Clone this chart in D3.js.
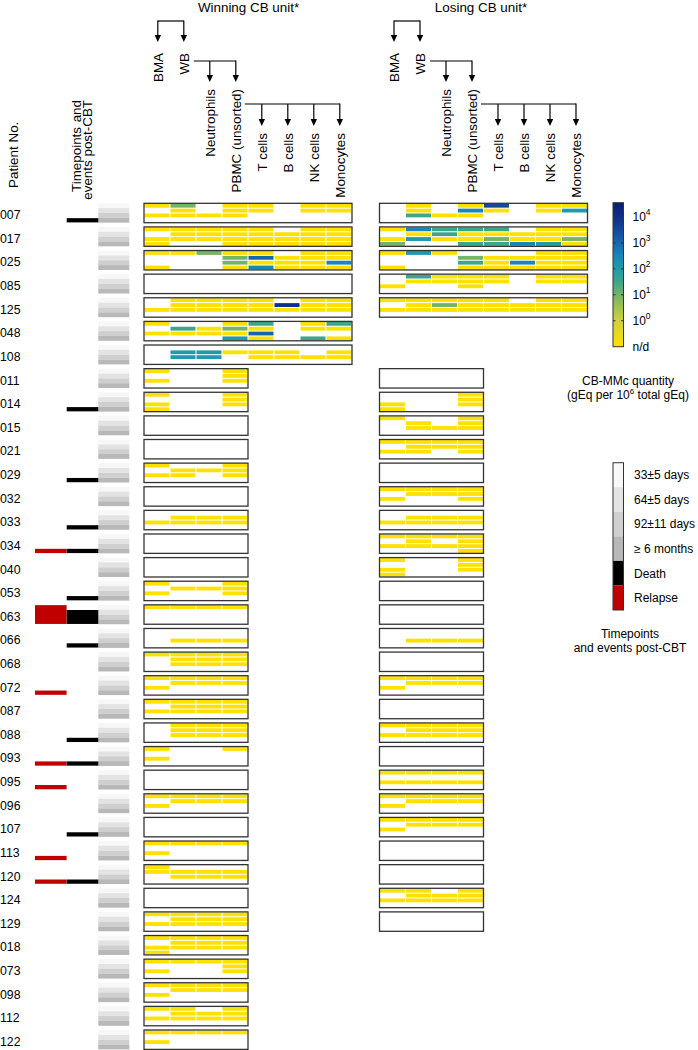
<!DOCTYPE html>
<html>
<head>
<meta charset="utf-8">
<script src="https://cdn.jsdelivr.net/npm/d3@7"></script>
<style>
body { margin: 0; background: #fff; }
svg { font-family: "Liberation Sans", Arial, sans-serif; font-size: 13.4px; }
</style>
</head>
<body>
<script>
var width = 698,
    height = 1050;

// patients, top to bottom
var patients = ["007","017","025","085","125","048","108","011","014","015","021","029","032","033","034","040",
  "053","063","066","068","072","087","088","093","095","096","107","113","120","124","129","018","073","098","112","122"];

var columns = ["BMA","WB","Neutrophils","PBMC (unsorted)","T cells","B cells","NK cells","Monocytes"];

// one token per column, one char per timepoint:
// "." not sampled, "n" n/d, digit d -> 10^((d-1)/2) gEq per 10^6
var winningCells = [
  "n.n. 3nn. ..n. nnn. nn.. .... nn.. nn..",
  "n.nn nnn. nnn. nnnn nnnn .nnn nnnn nnnn",
  "n..n n... 3... n33n n7n6 .nnn nnnn nn6n",
  ".... .... .... .... .... .... .... ....",
  "..n. nnn. nnn. nnn. nnn. .9n. nnn. nnn.",
  "n.n. .4n. .nn. n3n5 4n7n .... nn.4 4n.n",
  ".... .55. .55. .n.. .nn. .nn. ..n. .nn.",
  "n.n. .... .... nnn.",
  "n.nn .... .... nnn.",
  ".... .... .... ....",
  ".... .... .... ....",
  "n.n. .nn. .n.. nnn.",
  ".... .... .... ....",
  "..n. .nn. .nn. .nn.",
  ".... .... .... ....",
  ".... .... .... ....",
  "n.n. .n.. .n.. nnn.",
  "n... n... n... n...",
  ".... ..n. ..n. ..n.",
  "n... nnn. nnn. nnn.",
  "n.n. nn.. nn.. nn..",
  "n.n. nnn. nnn. nnn.",
  ".... nnn. nnn. nnn.",
  "n.n. .... .... n...",
  ".... .... .... ....",
  "n.n. nn.. nn.. nn..",
  ".... .... .... ....",
  "n.n. n... n... n...",
  "nn.. .nn. .nn. .nn.",
  ".... .... .... ....",
  "n.n. nnn. nnn. nnn.",
  "n.nn nnn. nnn. nnn.",
  "n.n. n... n... nnn.",
  "n.n. nn.. nn.. nn..",
  "n.n. nnn. .nn. nnn.",
  "n.n. n... n... n..."
];

var losingCells = [
  ".... nn4. ..n. n6n. 8n.. .... nn.. n5..",
  "n.n3 6n5. 44n. 4nn4 4n34 .nn6 nnn5 nn3n",
  "n..n 5... n... .34n .nnn .n6n nnnn nnnn",
  "..n. 4n.. nn.. nnn. nn.. .... nn.. nn..",
  "n.n. nnn. n3n. nnn. nnn. .nn. nnn. nnn.",
  null,
  null,
  ".... .... .... ....",
  "..nn .... .... nnn.",
  "n... .nn. ..n. nnn.",
  "n.n. nnn. nn.. nnn.",
  ".... .... .... ....",
  "n.n. nn.. nn.. nnn.",
  "..n. .nn. .nn. .nn.",
  "n.n. nnn. n.n. nnnn",
  "n.nn .... .... nnn.",
  ".... .... .... ....",
  ".... .... .... ....",
  ".... ..n. ..n. ..n.",
  ".... .... .... ....",
  "n.n. nn.. nn.. nn..",
  ".... .... .... ....",
  "n.n. nnn. nnn. nnn.",
  ".... .... .... ....",
  "n.n. n.n. n.n. n.n.",
  "n.n. nn.. nn.. nn..",
  "n.n. nn.. nn.. nn..",
  ".... .... .... ....",
  ".... .... .... ....",
  "n.n. nnn. .nn. nnn.",
  ".... .... .... ....",
  null, null, null, null, null
];

// events post-CBT: from which timepoint the bar starts
var relapsePatients = ["034","063","072","093","095","113","120"];
var relapseFrom     = [3, 0, 3, 3, 3, 3, 3];
var deathPatients   = ["007","014","029","033","034","053","063","066","088","093","107","120"];
var deathFrom       = [3, 3, 3, 3, 3, 3, 1, 3, 3, 3, 3, 3];

var timepointLabels = ["33\u00b15 days","64\u00b15 days","92\u00b111 days","\u2265 6 months","Death","Relapse"];
var timepointColors = ["#f7f7f7","#e3e3e3","#cfcfcf","#b8b8b8","#000000","#c00000"];

var colorTicks = [0, 1, 2, 3, 4];
var colorDomain = [-1, 0, 1, 1.5, 2, 2.5, 3, 4, 4.6];
var colorRange  = ["#ffe100","#cfd23a","#74b468","#3fa58a","#1f9aaa","#1a86b8","#1766ac","#0f2f88","#0a1f6e"];

var color = d3.scaleLinear().domain(colorDomain).range(colorRange);
function cellValue(c){ return c === "n" ? -1 : (+c - 1) / 2; }

var svg = d3.select("body").append("svg")
    .attr("width", width)
    .attr("height", height);

var rowStep = 23.62, boxH = 19.4;
var y = d3.scaleBand()
    .domain(patients)
    .range([203.3, 203.3 + patients.length * rowStep - (rowStep - boxH)])
    .paddingInner(1 - boxH / rowStep);

var sub = d3.scaleBand().domain([0,1,2,3]).range([0, y.bandwidth()]);

var xWin = d3.scaleBand().domain(columns).range([144, 144 + 8 * 26]);
var xLose = d3.scaleBand().domain(columns).range([379.5, 379.5 + 8 * 26]);

// row labels
svg.append("g").selectAll("text")
    .data(patients)
    .enter().append("text")
    .attr("x", 0)
    .attr("y", function(d){ return y(d) + y.bandwidth() / 2 + 6.2; })
    .attr("font-size", 12.3)
    .text(function(d){ return d; });

// timepoint grey blocks
patients.forEach(function(p){
  svg.append("g").selectAll("rect")
      .data([0,1,2,3])
      .enter().append("rect")
      .attr("x", 98.3)
      .attr("width", 31)
      .attr("y", function(k){ return y(p) + sub(k); })
      .attr("height", sub.bandwidth())
      .attr("fill", function(k){ return timepointColors[k]; });
});

// events
function drawEvents(list, from, x0, fill){
  svg.append("g").selectAll("rect")
      .data(list)
      .enter().append("rect")
      .attr("x", x0)
      .attr("width", 31.6)
      .attr("y", function(d, i){ return y(d) + sub(from[i]) + 0.3; })
      .attr("height", function(d, i){ return y.bandwidth() - sub(from[i]) - 0.6; })
      .attr("fill", fill);
}
drawEvents(relapsePatients, relapseFrom, 35, "#c00000");
drawEvents(deathPatients, deathFrom, 66.7, "#000");

// heat map panels
function drawPanel(cells, x){
  cells.forEach(function(row, i){
    if (row === null) return;
    var p = patients[i];
    var tokens = row.split(" ");
    var g = svg.append("g").attr("transform", "translate(0," + y(p) + ")");
    tokens.forEach(function(tok, j){
      tok.split("").forEach(function(c, k){
        if (c === ".") return;
        g.append("rect")
            .attr("x", x(columns[j]) + 0.5)
            .attr("width", x.bandwidth() - 1)
            .attr("y", sub(k) + 0.5)
            .attr("height", sub.bandwidth() - 1)
            .attr("fill", color(cellValue(c)));
      });
    });
    g.append("rect")
        .attr("x", x.range()[0])
        .attr("width", tokens.length * x.bandwidth())
        .attr("y", 0)
        .attr("height", y.bandwidth())
        .attr("fill", "none")
        .attr("stroke", "#333")
        .attr("stroke-width", 1.3);
  });
}
drawPanel(winningCells, xWin);
drawPanel(losingCells, xLose);

// column headers with arrows
var labelTop = [53, 53, 89, 89, 133, 133, 133, 133];

function arrow(g, x, yTop, tip){
  g.append("path").attr("d", "M" + x + "," + yTop + "V" + (tip - 6))
      .attr("stroke", "#000").attr("stroke-width", 1.2);
  g.append("path").attr("d", "M" + (x - 3.2) + "," + (tip - 7) + "L" + (x + 3.2) + "," + (tip - 7) + "L" + x + "," + tip + "Z")
      .attr("fill", "#000");
}

function drawHeader(x, title, titleX, dx){
  var g = svg.append("g");
  var cx = function(c){ return x(columns[c]) + x.bandwidth() / 2 + dx; };
  g.append("text")
      .attr("x", titleX)
      .attr("y", 11.5)
      .attr("text-anchor", "middle")
      .text(title);
  columns.forEach(function(c, i){
    g.append("text")
        .attr("transform", "translate(" + (cx(i) + 4.7) + "," + labelTop[i] + ") rotate(-90)")
        .attr("text-anchor", "end")
        .text(c);
  });
  // BMA / WB bracket
  g.append("path").attr("d", "M" + cx(0) + ",21H" + cx(1))
      .attr("stroke", "#000").attr("stroke-width", 1.2).attr("fill", "none");
  arrow(g, cx(0), 20.4, 42);
  arrow(g, cx(1), 20.4, 42);
  // WB -> neutrophils, PBMC
  g.append("path").attr("d", "M" + (cx(1) + 10) + ",61H" + cx(3))
      .attr("stroke", "#000").attr("stroke-width", 1.2);
  arrow(g, cx(2), 61, 82);
  arrow(g, cx(3), 60.4, 82);
  // PBMC -> sorted subsets
  g.append("path").attr("d", "M" + (cx(3) + 9) + ",104H" + cx(7))
      .attr("stroke", "#000").attr("stroke-width", 1.2);
  [4,5,6,7].forEach(function(i){ arrow(g, cx(i), i === 7 ? 103.4 : 104, 126); });
}
drawHeader(xWin, "Winning CB unit*", 248.5, 0.8);
drawHeader(xLose, "Losing CB unit*", 481, 1.5);

// left headers
svg.append("text")
    .attr("transform", "translate(17.5,121.7) rotate(-90)")
    .attr("text-anchor", "end")
    .text("Patient No.");
svg.append("text")
    .attr("transform", "translate(80.7,100) rotate(-90)")
    .attr("text-anchor", "end")
    .text("and");
svg.append("text")
    .attr("transform", "translate(80.7,127) rotate(-90)")
    .attr("text-anchor", "end")
    .text("Timepoints");
svg.append("text")
    .attr("transform", "translate(92,100) rotate(-90)")
    .attr("text-anchor", "end")
    .text("events post-CBT");

// colour bar legend
var legend = svg.append("g").attr("font-size", 12);
var cy = d3.scaleLinear().domain([-1, 4.55]).range([346.7, 202.7]);
var defs = svg.append("defs");
var grad = defs.append("linearGradient").attr("id", "cbar")
    .attr("x1", 0).attr("x2", 0).attr("y1", 1).attr("y2", 0);
colorDomain.forEach(function(v){
  grad.append("stop")
      .attr("offset", Math.min(1, (v + 1) / 5.55))
      .attr("stop-color", color(v));
});
legend.append("rect")
    .attr("x", 613).attr("width", 10.5)
    .attr("y", cy(4.55)).attr("height", cy(-1) - cy(4.55))
    .attr("fill", "url(#cbar)")
    .attr("stroke", "#333").attr("stroke-width", 1);
colorTicks.forEach(function(t){
  legend.append("path").attr("d", "M613," + cy(t) + "h2.5M623.5," + cy(t) + "h-2.5")
      .attr("stroke", "#333").attr("stroke-width", 1);
  var tx = legend.append("text").attr("x", 632.5).attr("y", cy(t) + 4.4);
  tx.append("tspan").text("10");
  tx.append("tspan").attr("dy", -6).attr("font-size", 8.5).text(t);
});
legend.append("text").attr("x", 632.5).attr("y", cy(-1) + 4).text("n/d");

legend.append("text").attr("x", 628).attr("y", 384.5).attr("text-anchor", "middle").text("CB-MMc quantity");
var unitText = legend.append("text").attr("x", 628).attr("y", 399).attr("text-anchor", "middle");
unitText.append("tspan").text("(gEq per 10");
unitText.append("tspan").attr("dy", -5).attr("font-size", 8).text("6");
unitText.append("tspan").attr("dy", 5).text(" total gEq)");

// timepoint / events legend
var ly = d3.scaleBand().domain(timepointLabels).range([462.7, 610]);
legend.append("g").selectAll("rect")
    .data(timepointLabels)
    .enter().append("rect")
    .attr("x", 613).attr("width", 10.5)
    .attr("y", function(d){ return ly(d); })
    .attr("height", ly.bandwidth())
    .attr("fill", function(d, i){ return timepointColors[i]; });
legend.append("rect")
    .attr("x", 613).attr("width", 10.5)
    .attr("y", 462.7).attr("height", 610 - 462.7)
    .attr("fill", "none").attr("stroke", "#333").attr("stroke-width", 1);
legend.append("g").selectAll("text")
    .data(timepointLabels)
    .enter().append("text")
    .attr("x", 634)
    .attr("y", function(d){ return ly(d) + ly.bandwidth() / 2 + 4.4; })
    .text(function(d){ return d; });

legend.append("text").attr("x", 630).attr("y", 638).attr("text-anchor", "middle").text("Timepoints");
legend.append("text").attr("x", 630).attr("y", 652).attr("text-anchor", "middle").text("and events post-CBT");
</script>
</body>
</html>
